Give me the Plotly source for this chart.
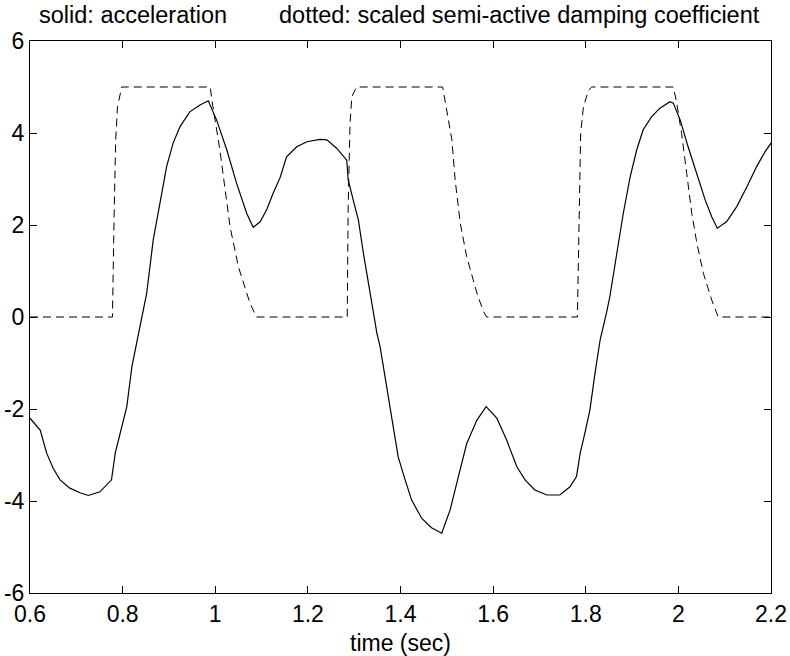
import plotly.graph_objects as go

# acceleration (solid)
acc_t = [0.600, 0.622, 0.636, 0.650, 0.665, 0.686, 0.708, 0.726, 0.751, 0.776,
         0.784, 0.794, 0.809, 0.820, 0.834, 0.848, 0.852, 0.866, 0.881, 0.895,
         0.909, 0.924, 0.945, 0.967, 0.985, 1.003, 1.025, 1.046, 1.068, 1.082,
         1.097, 1.111, 1.125, 1.140, 1.154, 1.176, 1.198, 1.226, 1.241, 1.262,
         1.284, 1.287, 1.298, 1.309, 1.320, 1.334, 1.349, 1.356, 1.363, 1.374,
         1.384, 1.395, 1.410, 1.424, 1.446, 1.467, 1.489, 1.507, 1.525, 1.543,
         1.565, 1.585, 1.608, 1.629, 1.651, 1.669, 1.690, 1.716, 1.744, 1.766,
         1.780, 1.788, 1.798, 1.809, 1.820, 1.831, 1.845, 1.852, 1.867, 1.881,
         1.896, 1.910, 1.924, 1.942, 1.960, 1.982, 1.989, 2.004, 2.021, 2.040,
         2.058, 2.072, 2.084, 2.104, 2.126, 2.148, 2.169, 2.187, 2.200]
acc_v = [-2.20, -2.46, -2.96, -3.29, -3.54, -3.72, -3.82, -3.88, -3.80, -3.54,
         -2.96, -2.53, -1.95, -1.08, -0.35, 0.37, 0.52, 1.67, 2.54, 3.27,
         3.78, 4.14, 4.46, 4.61, 4.70, 4.28, 3.63, 2.91, 2.25, 1.95,
         2.07, 2.33, 2.69, 3.03, 3.48, 3.70, 3.81, 3.86, 3.85, 3.67,
         3.41, 2.98, 2.54, 2.11, 1.38, 0.52, -0.35, -0.65, -1.08, -1.80,
         -2.38, -3.04, -3.54, -3.98, -4.38, -4.58, -4.70, -4.20, -3.47, -2.75,
         -2.24, -1.95, -2.20, -2.67, -3.25, -3.54, -3.76, -3.87, -3.87, -3.69,
         -3.47, -2.96, -2.53, -2.02, -1.22, -0.50, 0.10, 0.44, 1.38, 2.25,
         3.05, 3.63, 4.07, 4.35, 4.54, 4.68, 4.65, 4.28, 3.70, 3.12,
         2.54, 2.18, 1.93, 2.07, 2.40, 2.83, 3.27, 3.59, 3.78]

# scaled semi-active damping coefficient (dashed)
damp_t = [0.600, 0.778, 0.782, 0.785, 0.789, 0.798, 0.989, 0.995, 1.010, 1.021,
          1.032, 1.050, 1.075, 1.089, 1.285, 1.287, 1.291, 1.295, 1.305, 1.491,
          1.500, 1.511, 1.518, 1.529, 1.543, 1.565, 1.579, 1.586, 1.782, 1.786,
          1.789, 1.795, 1.806, 1.813, 1.989, 1.996, 2.007, 2.018, 2.029, 2.040,
          2.054, 2.072, 2.086, 2.200]
damp_v = [0, 0, 2.40, 3.85, 4.57, 5, 5, 4.57, 3.63, 2.76,
          1.96, 1.09, 0.30, 0, 0, 2.40, 4.21, 4.79, 5, 5,
          4.50, 3.85, 2.98, 2.04, 1.31, 0.52, 0.12, 0, 0, 2.40,
          3.99, 4.57, 4.93, 5, 5, 4.68, 3.99, 3.12, 2.25, 1.60,
          0.95, 0.37, 0, 0]

x_ticks = [0.6, 0.8, 1.0, 1.2, 1.4, 1.6, 1.8, 2.0, 2.2]
x_labels = ["0.6", "0.8", "1", "1.2", "1.4", "1.6", "1.8", "2", "2.2"]
y_ticks = [-6, -4, -2, 0, 2, 4, 6]
y_labels = ["-6", "-4", "-2", "0", "2", "4", "6"]

font = "Liberation Sans, Arial, Helvetica, sans-serif"

fig = go.Figure()
fig.add_trace(go.Scatter(x=damp_t, y=damp_v, mode="lines",
                         line=dict(color="black", width=1, dash="8px,5px"),
                         showlegend=False))
fig.add_trace(go.Scatter(x=acc_t, y=acc_v, mode="lines",
                         line=dict(color="black", width=1.2),
                         showlegend=False))

axis_style = dict(showline=True, linecolor="black", linewidth=1, mirror="ticks",
                  ticks="inside", ticklen=7, tickcolor="black", tickwidth=1,
                  showgrid=False, zeroline=False, automargin=False,
                  tickfont=dict(family=font, size=23, color="black"))

fig.update_xaxes(range=[0.6, 2.2], tickvals=x_ticks, ticktext=x_labels,
                 title=dict(text="time (sec)", font=dict(family=font, size=23, color="black"),
                            standoff=11),
                 **axis_style)
fig.update_yaxes(range=[-6, 6], tickvals=y_ticks, ticktext=y_labels, **axis_style)

# two-part title above the axes
title_y = 1 + (41 - 15) / 552
fig.add_annotation(text="solid: acceleration", xref="paper", yref="paper",
                   x=(37 - 30) / 741, y=title_y, xanchor="left", yanchor="middle",
                   showarrow=False, font=dict(family=font, size=23.5, color="black"))
fig.add_annotation(text="dotted: scaled semi-active damping coefficient", xref="paper", yref="paper",
                   x=(277 - 30) / 741, y=title_y, xanchor="left", yanchor="middle",
                   showarrow=False, font=dict(family=font, size=23.5, color="black"))

fig.update_layout(width=790, height=656,
                  margin=dict(l=30, r=19, t=41, b=63),
                  paper_bgcolor="white", plot_bgcolor="white",
                  font=dict(family=font, size=23, color="black"))

# drop the default body margin so the figure sits at the page corner
fig.write_html("out.html", config={"displayModeBar": False},
               post_script="document.body.style.margin='0';")
